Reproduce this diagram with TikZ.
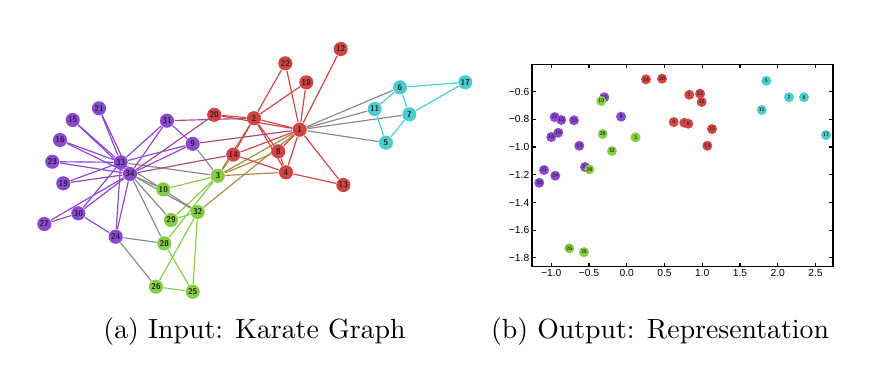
\documentclass[tikz,border=0pt]{standalone}
\usepackage{fontspec}
\newfontfamily\plotfont{Liberation Sans}
\usetikzlibrary{math}
\pgfdeclarelayer{links}
\pgfsetlayers{links,main}

\definecolor{cR}{RGB}{208,68,68}
\definecolor{cP}{RGB}{138,72,212}
\definecolor{cG}{RGB}{132,206,68}
\definecolor{cC}{RGB}{76,205,205}

\tikzset{
  gnode/.style={circle, inner sep=0pt, minimum size=5.1pt,
    font=\fontsize{3}{3}\sffamily\bfseries, text=black!85},
  pdot/.style={circle, inner sep=0pt, minimum size=3.6pt,
    font=\fontsize{1.9}{2}\sffamily\bfseries, text=black!85},
  link/.style={line width=0.42pt},
  ticklab/.style={font=\fontsize{3.7}{4}\plotfont, inner sep=0.8pt},
}

\begin{document}
\begin{tikzpicture}[x=0.36pt,y=-0.36pt]
\useasboundingbox (0,0) rectangle (875,374);

% (a) karate graph
\foreach \n/\xp/\yp/\c in {1/299.7/129.7/cR, 2/254/118.2/cR, 3/217.8/175.8/cG,
  4/286/172.3/cR, 5/386/142.7/cC, 6/400/87.3/cC, 7/409.3/114.3/cC,
  8/278.3/151.3/cR, 9/192.7/143.8/cP, 10/163.3/189.3/cG, 11/374.7/109/cC,
  12/340.7/49/cR, 13/343.3/185/cR, 14/233.3/154.6/cR, 15/72.7/120/cP,
  16/60/140/cP, 17/465.3/82.3/cC, 18/306.3/82.3/cR, 19/63.3/183.3/cP,
  20/214.2/114.8/cR, 21/99/108.3/cP, 22/285.3/63.3/cR, 23/52.3/161.7/cP,
  24/115.7/236.7/cP, 25/192.7/291.7/cG, 26/156/286.7/cG, 27/44.3/224/cP,
  28/164.3/243.3/cG, 29/171/220/cG, 30/78.3/213.3/cP, 31/167/120.7/cP,
  32/197.7/212/cG, 33/120.7/162.3/cP, 34/130/174/cP}{
\node[gnode, fill=\c] (g\n) at (\xp,\yp) {\n};
}

\begin{pgfonlayer}{links}
\foreach \a/\b/\c in {1/2/cR, 1/3/cR!50!cG, 1/4/cR, 1/5/cR!50!cC, 1/6/cR!50!cC,
  1/7/cR!50!cC, 1/8/cR, 1/9/cR!50!cP, 1/11/cR!50!cC, 1/12/cR, 1/13/cR, 1/14/cR,
  1/18/cR, 1/20/cR, 1/22/cR, 1/32/cR!50!cG,
  2/3/cR!50!cG, 2/4/cR, 2/8/cR, 2/14/cR, 2/18/cR, 2/20/cR, 2/22/cR, 2/31/cR!50!cP,
  3/4/cR!50!cG, 3/8/cR!50!cG, 3/9/cG!50!cP, 3/10/cG, 3/14/cR!50!cG, 3/28/cG,
  3/29/cG, 3/33/cG!50!cP,
  4/8/cR, 4/13/cR, 4/14/cR,
  5/7/cC, 5/11/cC, 6/7/cC, 6/11/cC, 6/17/cC, 7/17/cC,
  9/31/cP, 9/33/cP, 9/34/cP, 10/34/cG!50!cP, 14/34/cR!50!cP,
  15/33/cP, 15/34/cP, 16/33/cP, 16/34/cP, 19/33/cP, 19/34/cP, 20/34/cR!50!cP,
  21/33/cP, 21/34/cP, 23/33/cP, 23/34/cP,
  24/26/cG!50!cP, 24/28/cG!50!cP, 24/30/cP, 24/33/cP, 24/34/cP,
  25/26/cG, 25/28/cG, 25/32/cG, 26/32/cG, 27/30/cP, 27/34/cP, 28/34/cG!50!cP,
  29/32/cG, 29/34/cG!50!cP, 30/33/cP, 30/34/cP, 31/33/cP, 31/34/cP,
  32/33/cG!50!cP, 32/34/cG!50!cP, 33/34/cP}{
\draw[link, draw=\c] (g\a) -- (g\b);
}
\end{pgfonlayer}

% (b) embedding
\begin{scope}[shift={(626.7,8.4)}, x=27.18pt, y=49.9pt]
\tikzmath{
\xmin=-1.254; \xmax=2.732;
\ymin=-1.863; \ymax=-0.405;
}
\draw[line width=0.5pt] (\xmin,\ymin) rectangle (\xmax,\ymax);

\foreach \xt/\lab in {-1.0/−1.0,-0.5/−0.5,0.0/0.0,0.5/0.5,1.0/1.0,1.5/1.5,2.0/2.0,2.5/2.5}{
\draw[line width=0.4pt] (\xt,\ymin) -- +(0,1.4pt);
\draw[line width=0.4pt] (\xt,\ymax) -- +(0,-1.4pt);
\node[ticklab, anchor=north] at (\xt,\ymin) {\lab};
}
\foreach \yt/\lab in {-0.6/−0.6,-0.8/−0.8,-1.0/−1.0,-1.2/−1.2,-1.4/−1.4,-1.6/−1.6,-1.8/−1.8}{
\draw[line width=0.4pt] (\xmin,\yt) -- +(1.4pt,0);
\draw[line width=0.4pt] (\xmax,\yt) -- +(-1.4pt,0);
\node[ticklab, anchor=east] at (\xmin,\yt) {\lab};
}

\foreach \n/\xp/\yp/\c in {14/0.256/-0.512/cR, 20/0.468/-0.507/cR,
  1/0.829/-0.623/cR, 22/0.971/-0.615/cR, 18/0.993/-0.675/cR, 4/0.623/-0.820/cR,
  2/0.763/-0.825/cR, 8/0.816/-0.832/cR, 12/1.130/-0.870/cR, 13/1.068/-0.991/cR,
  31/-0.297/-0.641/cP, 9/-0.075/-0.781/cP, 21/-0.954/-0.784/cP, 15/-0.866/-0.805/cP,
  33/-0.698/-0.807/cP, 16/-0.999/-0.928/cP, 19/-0.906/-0.897/cP, 23/-0.628/-0.991/cP,
  34/-0.552/-1.144/cP, 27/-1.095/-1.166/cP, 24/-0.946/-1.207/cP, 30/-1.158/-1.258/cP,
  10/-0.336/-0.668/cG, 29/-0.318/-0.906/cG, 3/0.117/-0.930/cG, 32/-0.195/-1.029/cG,
  28/-0.495/-1.161/cG, 26/-0.760/-1.731/cG, 25/-0.566/-1.758/cG,
  5/1.849/-0.522/cC, 7/2.150/-0.641/cC, 6/2.348/-0.641/cC, 11/1.788/-0.733/cC,
  17/2.640/-0.913/cC}{
\node[pdot, fill=\c] (p\n) at (\xp,\yp) {\n};
}
\end{scope}

\node[anchor=base] (capa) at (254.5,338) {(a) Input: Karate Graph};
\node[anchor=base] (capb) at (660,338) {(b) Output: Representation};

\end{tikzpicture}
\end{document}
